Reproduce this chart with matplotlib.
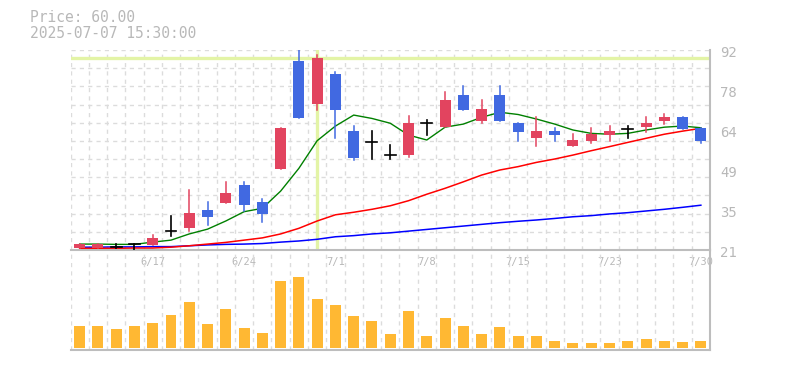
import matplotlib.pyplot as plt
from matplotlib.patches import Rectangle
import matplotlib.transforms as mtransforms

# Dados diarios (6/11 a 7/30)
dates = ['6/11', '6/12', '6/13', '6/16', '6/17', '6/18', '6/19', '6/20', '6/23', '6/24',
         '6/25', '6/26', '6/27', '6/30', '7/1', '7/2', '7/3', '7/4', '7/7', '7/8',
         '7/9', '7/10', '7/11', '7/14', '7/15', '7/16', '7/17', '7/18', '7/22', '7/23',
         '7/24', '7/25', '7/28', '7/29', '7/30']
open_ = [21.8, 21.8, 22.0, 23.0, 22.9, 27.9, 28.9, 35.2, 37.7, 44.1,
         38.0, 49.9, 88.1, 72.9, 83.4, 63.4, 59.3, 54.8, 54.8, 66.0,
         64.8, 76.0, 66.8, 76.0, 66.1, 60.9, 63.35, 57.9, 59.8, 61.8,
         64.0, 64.8, 66.9, 68.2, 64.3]
high = [23.2, 23.2, 23.1, 23.2, 26.3, 33.2, 42.3, 38.0, 45.1, 45.1,
        39.1, 64.3, 93.0, 90.2, 84.2, 65.0, 63.4, 58.3, 68.6, 67.2,
        77.1, 79.2, 74.25, 79.2, 66.1, 68.1, 64.2, 62.2, 64.2, 65.0,
        65.0, 68.1, 69.3, 68.2, 64.3]
low = [21.8, 21.8, 21.8, 20.8, 22.9, 26.1, 27.85, 29.9, 37.7, 34.8,
       31.0, 49.9, 68.0, 70.8, 60.9, 53.0, 53.2, 53.2, 53.9, 61.9,
       64.8, 70.8, 66.0, 66.9, 59.8, 57.9, 59.8, 57.9, 59.1, 59.8,
       60.9, 63.0, 65.7, 64.1, 59.1]
close = [23.2, 23.2, 22.0, 23.0, 25.3, 27.9, 34.1, 32.8, 41.2, 37.1,
         33.9, 64.3, 68.0, 89.3, 70.8, 53.8, 59.3, 54.8, 66.2, 66.0,
         74.25, 70.8, 71.05, 66.9, 63.0, 63.35, 61.9, 60.0, 62.2, 63.35,
         64.0, 66.2, 68.2, 64.1, 59.8]
volume = [22, 22, 19, 22, 25, 33, 46, 24, 39, 20,
          15, 67, 71, 49, 43, 32, 27, 14, 37, 12,
          30, 22, 14, 21, 12, 12, 7, 5, 5, 5,
          7, 9, 7, 6, 7]
ma_short = [23.1, 23.1, 23.0, 23.0, 23.8, 24.5, 26.7, 28.4, 31.3, 34.6,
            35.8, 41.9, 50.0, 59.8, 65.0, 68.9, 67.7, 66.0, 61.8, 60.05,
            64.6, 65.7, 68.1, 69.9, 69.1, 67.5, 65.7, 63.6, 62.4, 62.1,
            62.4, 63.6, 64.6, 65.0, 64.4]
ma_mid = [21.6, 21.6, 21.6, 21.7, 21.7, 22.0, 22.5, 23.1, 23.7, 24.5,
          25.3, 26.7, 28.7, 31.3, 33.5, 34.4, 35.45, 36.7, 38.5, 40.8,
          42.9, 45.2, 47.6, 49.4, 50.6, 52.1, 53.3, 54.7, 56.25, 57.7,
          59.2, 60.65, 62.1, 63.2, 64.2]
ma_long = [22.0, 22.0, 22.1, 22.1, 22.2, 22.2, 22.5, 22.8, 23.0, 23.1,
           23.3, 23.8, 24.2, 24.8, 25.7, 26.1, 26.7, 27.1, 27.7, 28.3,
           28.9, 29.5, 30.1, 30.7, 31.2, 31.65, 32.2, 32.8, 33.2, 33.8,
           34.25, 34.85, 35.45, 36.15, 36.9]

tick_idx = [4, 9, 14, 19, 24, 29, 34]
y_ticks = [21, 35.2, 49.4, 63.6, 77.8, 92]
y_labels = ['21', '35', '49', '64', '78', '92']
cross_idx = 13
cross_price = 89.3
header = ['Price: 60.00', '2025-07-07 15:30:00']

UP = '#e2445f'
DOWN = '#4169e1'
GRID = '#dcdcdc'
TXT = '#b8b8b8'
FONT = 'DejaVu Sans Mono'

fig = plt.figure(figsize=(7.85, 3.70), dpi=100)
ax = fig.add_axes([70.5 / 785, 120 / 370, 639.5 / 785, 200 / 370])
axv = fig.add_axes([70.5 / 785, 20 / 370, 639.5 / 785, 100 / 370])
axv.patch.set_alpha(0)

n = len(dates)
ymin, ymax = 21, 92

# grade
for a in (ax, axv):
    for i in range(n + 1):
        a.axvline(i - 0.5, color=GRID, lw=1, ls=(0, (3, 3)), zorder=0)
    for s in ('left', 'top'):
        a.spines[s].set_visible(False)
    for s in ('right', 'bottom'):
        a.spines[s].set_color('#bdbdbd')
        a.spines[s].set_linewidth(1.5)
    a.set_xlim(-0.5, n - 0.5)
    a.set_xticks([])
    a.set_yticks([])
for k in range(1, 12):
    ax.axhline(ymin + k * (ymax - ymin) / 11, color=GRID, lw=1, ls=(0, (3, 3)), zorder=0)
ax.set_ylim(ymin, ymax)

# cruz do cursor
ax.axhline(cross_price, color='#e3f4a6', lw=2.4, zorder=1)
ax.plot([cross_idx, cross_idx], [ymax, 21.6], color='#e3f4a6', lw=2.4, zorder=1)

# medias moveis
x = list(range(n))
ax.plot(x, ma_long, color='#0000ff', lw=1.1, zorder=2)
ax.plot(x, ma_mid, color='#ff0000', lw=1.1, zorder=2)
ax.plot(x, ma_short, color='#008000', lw=1.0, zorder=2)

# candles
w = 0.6
for i in range(n):
    o, h, l, c = open_[i], high[i], low[i], close[i]
    if o == c:
        col = 'black'
        ax.plot([i, i], [l, h], color=col, lw=1.2, zorder=3)
        ax.plot([i - w / 2, i + w / 2], [o, o], color=col, lw=1.2, zorder=3)
        continue
    col = UP if c > o else DOWN
    ax.plot([i, i], [l, h], color=col, lw=1.1, zorder=3)
    ax.add_patch(Rectangle((i - w / 2, min(o, c)), w, abs(c - o), facecolor=col,
                           edgecolor='none', zorder=4))

# rotulos
ytr = mtransforms.blended_transform_factory(ax.transAxes, ax.transData)
ytr = ytr + mtransforms.ScaledTranslation(10 / 100, -3 / 100, fig.dpi_scale_trans)
for v, t in zip(y_ticks, y_labels):
    ax.text(1.0, v, t, transform=ytr, ha='left', va='center', fontsize=10,
            color=TXT, family=FONT, clip_on=False)
xtr = mtransforms.offset_copy(ax.transData, fig=fig, x=0, y=-12, units='dots')
for i in tick_idx:
    ax.text(i, ymin, dates[i], transform=xtr, ha='center', va='center', fontsize=7.5,
            color=TXT, family=FONT, clip_on=False)

# volume
axv.bar(x, volume, width=w, color='#ffb833', zorder=2)
axv.set_ylim(-2, 98)

fig.text(30 / 785, 1 - 17 / 370, header[0], ha='left', va='center', fontsize=10.5, color=TXT, family=FONT)
fig.text(30 / 785, 1 - 33 / 370, header[1], ha='left', va='center', fontsize=10.5, color=TXT, family=FONT)

fig.savefig('out.png', dpi=100)
